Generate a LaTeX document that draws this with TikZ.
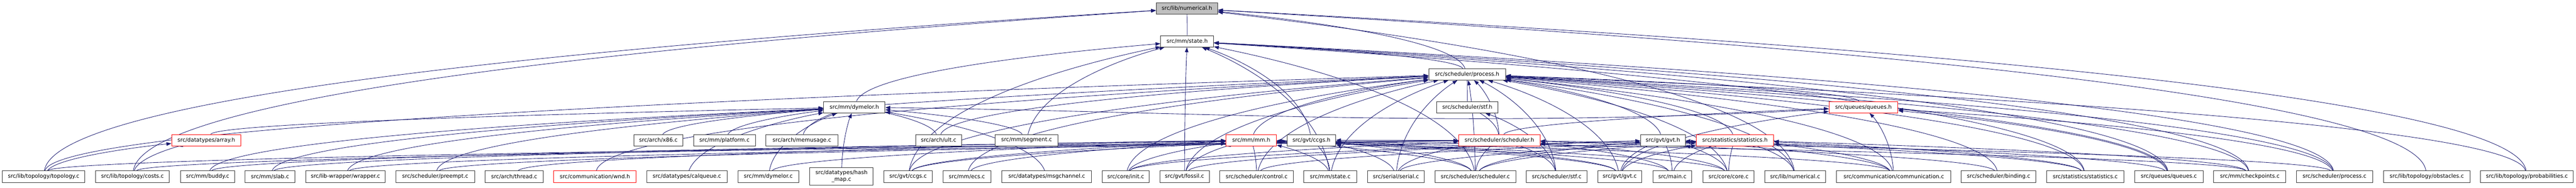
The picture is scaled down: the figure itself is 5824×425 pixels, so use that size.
\documentclass[tikz,border=0pt]{standalone}
\usepackage{fontspec}
\setmainfont{DejaVu Sans}
\usetikzlibrary{arrows.meta,calc,backgrounds}

\definecolor{edgeblue}{HTML}{191970}
\definecolor{rootgray}{HTML}{BFBFBF}

\tikzset{
  file/.style = {draw = black!80, line width = 1.1pt, fill = white, rectangle,
                 minimum height = 26pt, inner sep = 0pt, align = center,
                 font = \fontsize{12.3}{15}\selectfont},
  trunc/.style = {file, draw = red},
  dep/.style = {draw = edgeblue, line width = 1pt,
    -{Triangle[length = 11pt, width = 8pt]},
    to path = {let \p1 = (\tikztostart), \p2 = (\tikztotarget),
                   \n1 = {max(-30, min(30, 0.08*(\x2 - \x1)))},
                   \n2 = {0.55*(\y2 - \y1)} in
               (\tikztostart) .. controls ({\x1 + \n1}, {\y1 + \n2})
               and ({\x2 + 0.35*(\x1 - \x2)}, {\y2 + 0.15*(\y1 - \y2)})
               .. (\tikztotarget) \tikztonodes}},
}

\begin{document}
\begin{tikzpicture}[x = 1pt, y = 1pt]
  \useasboundingbox (0,0) rectangle (5824,425);

  % headers
  \node[file, fill = rootgray, minimum width = 139pt] (numericalh) at (2683.5,406) {src/lib/numerical.h};
  \node[file, minimum width = 120pt] (stateh) at (2684,331.5) {src/mm/state.h};
  \node[file, minimum width = 174pt] (processh) at (3317,257) {src/scheduler/process.h};
  \node[file, minimum width = 139pt] (dymelorh) at (1931.5,182.5) {src/mm/dymelor.h};
  \node[file, minimum width = 139pt] (stfh) at (3317.5,182.5) {src/scheduler/stf.h};
  \node[trunc, minimum width = 156pt] (queuesh) at (4213,182.5) {src/queues/queues.h};

  \node[trunc, minimum width = 157pt] (arrayh) at (466.5,108) {src/datatypes/array.h};
  \node[file, minimum width = 111pt] (x86c) at (1488.5,108) {src/arch/x86.c};
  \node[file, minimum width = 140pt] (platformc) at (1638,108) {src/mm/platform.c};
  \node[file, minimum width = 162pt] (memusagec) at (1813,108) {src/arch/memusage.c};
  \node[file, minimum width = 104pt] (ultc) at (2122,108) {src/arch/ult.c};
  \node[file, minimum width = 142pt] (segmentc) at (2321,108) {src/mm/segment.c};
  \node[trunc, minimum width = 114pt] (mmh) at (2829,108) {src/mm/mm.h};
  \node[file, minimum width = 110pt] (ccgsh) at (2965,108) {src/gvt/ccgs.h};
  \node[trunc, minimum width = 184pt] (schedulerh) at (3390,108) {src/scheduler/scheduler.h};
  \node[file, minimum width = 101pt] (gvth) at (3759.5,108) {src/gvt/gvt.h};
  \node[trunc, minimum width = 175pt] (statisticsh) at (3922.5,108) {src/statistics/statistics.h};

  % bottom row
  \node[file, minimum width = 187pt] (topologyc) at (98.5,25.5) {src/lib/topology/topology.c};
  \node[file, minimum width = 167pt] (costsc) at (299.5,25.5) {src/lib/topology/costs.c};
  \node[file, minimum width = 123pt] (buddyc) at (469.5,25.5) {src/mm/buddy.c};
  \node[file, minimum width = 113pt] (slabc) at (610.5,25.5) {src/mm/slab.c};
  \node[file, minimum width = 180pt] (wrapperc) at (781,25.5) {src/lib-wrapper/wrapper.c};
  \node[file, minimum width = 178pt] (preemptc) at (984,25.5) {src/scheduler/preempt.c};
  \node[file, minimum width = 131pt] (threadc) at (1162.5,25.5) {src/arch/thread.c};
  \node[trunc, minimum width = 186pt] (wndh) at (1345,25.5) {src/communication/wnd.h};
  \node[file, minimum width = 182pt] (calqueuec) at (1553,25.5) {src/datatypes/calqueue.c};
  \node[file, minimum width = 138pt] (dymeloc) at (1737,25.5) {src/mm/dymelor.c};
  \node[file, minimum width = 143pt, minimum height = 40pt] (hashmapc) at (1902.5,26) {src/datatypes/hash\\\_map.c};
  \node[file, minimum width = 110pt] (ccgsc) at (2053,25.5) {src/gvt/ccgs.c};
  \node[file, minimum width = 108pt] (ecsc) at (2186,25.5) {src/mm/ecs.c};
  \node[file, minimum width = 203pt] (msgchannelc) at (2366.5,25.5) {src/datatypes/msgchannel.c};
  \node[file, minimum width = 106pt] (initc) at (2545,25.5) {src/core/init.c};
  \node[file, minimum width = 112pt] (fossilc) at (2678,25.5) {src/gvt/fossil.c};
  \node[file, minimum width = 166pt] (controlc) at (2841,25.5) {src/scheduler/control.c};
  \node[file, minimum width = 119pt] (statec) at (3007.5,25.5) {src/mm/state.c};
  \node[file, minimum width = 128pt] (serialc) at (3156,25.5) {src/serial/serial.c};
  \node[file, minimum width = 183pt] (schedulerc) at (3335.5,25.5) {src/scheduler/scheduler.c};
  \node[file, minimum width = 137pt] (stfc) at (3519.5,25.5) {src/scheduler/stf.c};
  \node[file, minimum width = 100pt] (gvtc) at (3662,25.5) {src/gvt/gvt.c};
  \node[file, minimum width = 88pt] (mainc) at (3781,25.5) {src/main.c};
  \node[file, minimum width = 116pt] (corec) at (3908,25.5) {src/core/core.c};
  \node[file, minimum width = 137pt] (numericalc) at (4058.5,25.5) {src/lib/numerical.c};
  \node[file, minimum width = 259pt] (communicationc) at (4281.5,25.5) {src/communication/communication.c};
  \node[file, minimum width = 169pt] (bindingc) at (4518.5,25.5) {src/scheduler/binding.c};
  \node[file, minimum width = 175pt] (statisticsc) at (4714.5,25.5) {src/statistics/statistics.c};
  \node[file, minimum width = 155pt] (queuesc) at (4903.5,25.5) {src/queues/queues.c};
  \node[file, minimum width = 163pt] (checkpointsc) at (5086.5,25.5) {src/mm/checkpoints.c};
  \node[file, minimum width = 172pt] (processc) at (5278,25.5) {src/scheduler/process.c};
  \node[file, minimum width = 195pt] (obstaclesc) at (5486.5,25.5) {src/lib/topology/obstacles.c};
  \node[file, minimum width = 210pt] (probabilitiesc) at (5713,25.5) {src/lib/topology/probabilities.c};

  \begin{scope}[on background layer]
    % includes between headers
    \path (stateh) edge[dep] (numericalh);
    \path (processh) edge[dep] (numericalh) edge[dep] (stateh);
    \path (stfh) edge[dep] (processh);
    \path (dymelorh) edge[dep] (stateh);
    \path (queuesh) edge[dep] (processh);
    \draw[dep] (queuesh) .. controls +(-900,-50) and +(800,-10) .. (dymelorh);
    \path (arrayh) edge[dep] (dymelorh);
    \path (mmh) edge[dep] (processh);
    \path (ccgsh) edge[dep] (stateh);
    \path (schedulerh) edge[dep] (stfh) edge[dep] (processh) edge[dep] (queuesh) edge[dep] (ccgsh);
    \path (gvth) edge[dep] (processh);
    \path (statisticsh) edge[dep] (processh);

    \path (x86c) edge[dep] (dymelorh);
    \path (platformc) edge[dep] (dymelorh);
    \path (memusagec) edge[dep] (dymelorh);
    \path (ultc) edge[dep] (dymelorh) edge[dep] (processh);
    \path (segmentc) edge[dep] (dymelorh) edge[dep] (stateh);

    % sources
    \path (topologyc) edge[dep] (numericalh) edge[dep] (processh) edge[dep] (arrayh) edge[dep] (schedulerh);
    \path (costsc) edge[dep] (numericalh) edge[dep] (arrayh) edge[dep] (schedulerh);
    \path (buddyc) edge[dep] (dymelorh) edge[dep] (mmh);
    \path (slabc) edge[dep] (dymelorh) edge[dep] (mmh);
    \path (wrapperc) edge[dep] (dymelorh) edge[dep] (schedulerh);
    \path (preemptc) edge[dep] (processh) edge[dep] (schedulerh);
    \path (threadc) edge[dep] (mmh);
    \path (wndh) edge[dep] (processh);
    \path (calqueuec) edge[dep] (dymelorh);
    \path (dymeloc) edge[dep] (dymelorh) edge[dep] (mmh);
    \path (hashmapc) edge[dep] (dymelorh);
    \path (ccgsc) edge[dep] (stateh) edge[dep] (processh) edge[dep] (mmh) edge[dep] (ccgsh);
    \path (ecsc) edge[dep] (processh) edge[dep] (mmh);
    \path (msgchannelc) edge[dep] (dymelorh);
    \path (initc) edge[dep] (processh) edge[dep] (mmh) edge[dep] (schedulerh) edge[dep] (gvth);
    \path (fossilc) edge[dep] (stateh) edge[dep] (processh) edge[dep] (mmh) edge[dep] (gvth);
    \path (controlc) edge[dep] (processh) edge[dep] (mmh) edge[dep] (statisticsh);
    \path (statec) edge[dep] (stateh) edge[dep] (processh) edge[dep] (mmh) edge[dep] (ccgsh);
    \path (serialc) edge[dep] (processh) edge[dep] (ccgsh) edge[dep] (schedulerh) edge[dep] (statisticsh);
    \path (schedulerc) edge[dep] (stateh) edge[dep] (processh) edge[dep] (mmh) edge[dep] (ccgsh)
                       edge[dep] (schedulerh) edge[dep] (gvth) edge[dep] (statisticsh);
    \path (stfc) edge[dep] (stfh) edge[dep] (processh) edge[dep] (schedulerh);
    \path (gvtc) edge[dep] (processh) edge[dep] (queuesh) edge[dep] (mmh) edge[dep] (ccgsh)
                 edge[dep] (gvth) edge[dep] (statisticsh);
    \path (mainc) edge[dep] (mmh) edge[dep] (schedulerh) edge[dep] (gvth) edge[dep] (statisticsh);
    \path (corec) edge[dep] (processh) edge[dep] (mmh) edge[dep] (schedulerh) edge[dep] (gvth) edge[dep] (statisticsh);
    \path (numericalc) edge[dep] (numericalh) edge[dep] (processh) edge[dep] (statisticsh);
    \path (communicationc) edge[dep] (processh) edge[dep] (queuesh) edge[dep] (mmh) edge[dep] (gvth) edge[dep] (statisticsh);
    \path (bindingc) edge[dep] (processh) edge[dep] (schedulerh);
    \path (statisticsc) edge[dep] (stateh) edge[dep] (processh) edge[dep] (gvth) edge[dep] (statisticsh);
    \path (queuesc) edge[dep] (stateh) edge[dep] (processh) edge[dep] (queuesh) edge[dep] (gvth);
    \path (checkpointsc) edge[dep] (stateh) edge[dep] (processh) edge[dep] (mmh) edge[dep] (statisticsh);
    \path (processc) edge[dep] (stateh) edge[dep] (processh) edge[dep] (queuesh) edge[dep] (schedulerh);
    \path (obstaclesc) edge[dep] (numericalh);
    \path (probabilitiesc) edge[dep] (numericalh) edge[dep] (processh);
  \end{scope}
\end{tikzpicture}
\end{document}
